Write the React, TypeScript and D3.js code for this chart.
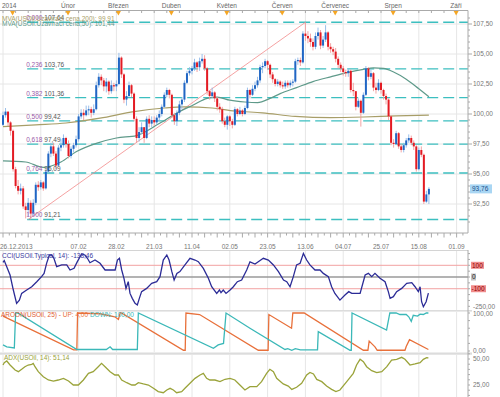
import React from 'react';
import * as d3 from 'd3';

const FONT = '"Liberation Sans", Arial, sans-serif';

// daily candles (USOil), open = previous close
const firstOpen = 99.1;
const closes = [
  99.9, 100.2, 99.3, 98.6, 95.4, 94.0, 93.6, 93.8, 92.3, 92.0,
  92.6, 91.7, 92.6, 94.1, 93.9, 94.3, 93.8, 95.2, 96.7, 97.3,
  96.7, 95.7, 97.2, 97.4, 98.0, 97.5, 96.5, 97.1, 97.4, 97.9,
  99.8, 100.1, 99.9, 100.3, 100.4, 100.1, 100.4, 102.4, 103.1, 102.8,
  102.3, 102.7, 101.9, 102.4, 102.3, 102.5, 104.7, 103.3, 101.2, 101.5,
  102.4, 101.7, 99.6, 98.0, 98.5, 98.9, 98.0, 99.6, 99.2, 99.5,
  99.3, 99.7, 100.0, 100.6, 101.6, 102.0, 101.6, 99.9, 99.4, 100.1,
  100.8, 101.2, 102.6, 103.4, 103.6, 103.8, 104.3, 103.9, 104.4, 104.6,
  103.8, 101.9, 101.5, 101.8, 101.3, 100.6, 100.4, 99.4, 99.1, 99.8,
  99.4, 99.1, 100.4, 100.0, 100.3, 100.0, 100.5, 102.0, 101.6, 102.1,
  102.4, 102.8, 103.9, 104.0, 104.4, 104.1, 103.3, 102.9, 102.5, 102.7,
  102.4, 102.3, 102.6, 102.4, 102.6, 102.7, 104.4, 104.5, 104.3, 106.7,
  106.5, 106.3, 106.0, 105.6, 106.5, 106.8, 105.7, 106.2, 106.8, 105.6,
  105.4, 105.2, 104.6, 104.1, 103.8, 103.5, 103.4, 103.6, 102.0, 101.9,
  100.6, 101.1, 100.1, 101.6, 103.8, 103.1, 103.4, 102.2, 102.0, 102.6,
  102.0, 101.5, 101.2, 99.8, 97.6, 97.5, 98.4, 97.3, 97.0, 97.4,
  97.8, 98.0, 97.6, 97.3, 95.4, 97.0, 96.6, 92.7, 93.3, 93.76,
];
const highs = [
  100.2, 100.5, 100.1, 99.4, 98.7, 95.6, 94.5, 94.2, 94.0, 92.6,
  93.0, 92.8, 92.9, 94.3, 94.4, 94.5, 94.4, 95.4, 96.9, 97.6,
  97.6, 96.9, 97.4, 97.9, 98.3, 98.1, 97.8, 97.3, 97.6, 98.2,
  100.0, 100.4, 100.4, 100.7, 100.7, 100.6, 100.8, 102.7, 103.4, 103.3,
  103.0, 103.0, 102.8, 102.8, 102.6, 102.8, 105.1, 104.8, 103.4, 101.9,
  102.7, 102.5, 101.8, 99.8, 98.9, 99.3, 98.9, 99.8, 99.9, 99.8,
  99.8, 99.9, 100.3, 100.8, 101.8, 102.2, 102.1, 101.7, 100.1, 100.3,
  101.1, 101.4, 102.8, 103.6, 103.9, 104.0, 104.6, 104.4, 104.7, 105.0,
  104.9, 103.9, 102.0, 102.2, 101.9, 101.4, 100.9, 100.6, 99.7, 99.9,
  99.9, 99.6, 100.6, 100.5, 100.6, 100.4, 100.7, 102.2, 102.1, 102.4,
  102.7, 103.1, 104.1, 104.3, 104.6, 104.5, 104.2, 103.5, 103.0, 102.9,
  102.8, 102.7, 102.8, 102.8, 102.8, 102.9, 104.6, 104.7, 104.7, 106.9,
  107.64, 106.9, 106.7, 106.3, 106.8, 107.2, 107.0, 106.5, 107.4, 106.9,
  105.9, 105.6, 105.5, 104.8, 104.3, 104.0, 103.7, 103.8, 103.7, 102.6,
  101.9, 101.3, 101.2, 101.8, 104.0, 103.9, 103.7, 103.5, 102.6, 102.9,
  102.7, 102.1, 101.7, 101.3, 99.9, 97.9, 98.6, 98.5, 97.5, 97.6,
  98.0, 98.3, 98.2, 97.8, 97.4, 97.2, 97.3, 96.7, 93.6, 93.9,
];
const lows = [
  99.0, 99.7, 99.0, 98.2, 95.2, 93.8, 93.3, 93.3, 92.1, 91.3,
  91.5, 91.21, 91.5, 92.4, 93.6, 93.7, 93.6, 93.7, 95.1, 96.4,
  96.5, 95.4, 95.6, 96.9, 97.2, 97.2, 96.3, 96.3, 96.8, 97.2,
  97.7, 99.6, 99.5, 99.8, 99.9, 99.7, 99.9, 100.3, 102.2, 102.4,
  101.9, 101.8, 101.6, 101.7, 101.9, 101.9, 102.4, 103.0, 100.9, 100.7,
  101.4, 101.4, 99.4, 97.6, 97.7, 98.3, 97.6, 97.9, 98.9, 98.9,
  99.0, 99.1, 99.4, 99.8, 100.5, 101.4, 101.3, 99.7, 99.1, 99.0,
  99.9, 100.4, 101.0, 102.5, 103.2, 103.3, 103.6, 103.5, 103.6, 104.2,
  103.6, 101.6, 101.2, 101.3, 101.0, 100.3, 100.1, 99.2, 98.9, 98.7,
  99.0, 98.8, 99.0, 99.8, 99.9, 99.8, 99.9, 100.4, 101.3, 101.5,
  101.9, 102.2, 102.6, 103.4, 103.8, 103.7, 103.0, 102.6, 102.3, 102.3,
  102.2, 102.1, 102.1, 102.2, 102.2, 102.3, 102.6, 104.1, 104.0, 104.2,
  106.1, 105.9, 105.6, 105.3, 105.4, 106.2, 105.4, 105.5, 106.0, 105.3,
  105.1, 104.9, 104.3, 103.8, 103.5, 103.2, 103.1, 103.1, 101.8, 101.5,
  100.3, 100.5, 98.95, 100.0, 101.5, 102.8, 102.9, 101.9, 101.7, 101.9,
  101.7, 101.2, 100.8, 99.5, 97.4, 97.2, 97.4, 97.1, 96.8, 96.8,
  97.2, 97.6, 97.4, 97.0, 95.2, 95.3, 96.4, 92.5, 92.6, 92.5,
];

// moving averages as [bar index, value]
const ma50 = [
  [0, 96.1], [9, 96.0], [16, 95.55], [23, 96.0], [29, 96.85], [37, 97.55], [45, 98.0],
  [53, 98.2], [62, 99.2], [70, 100.2], [75.5, 100.75], [81, 101.3], [85, 101.4], [90, 101.15],
  [96, 101.0], [101, 100.95], [106, 101.3], [110, 101.7], [116.5, 102.2], [123, 102.7],
  [130, 103.1], [136.5, 103.45], [143, 103.72], [147, 103.85], [151, 103.8], [155, 103.5],
  [160, 102.9], [165, 102.1], [169, 101.44],
];
const ma200 = [
  [0, 98.95], [13, 99.1], [25, 99.25], [38.5, 99.65], [52, 100.2], [64, 100.5], [72, 100.6],
  [83, 100.5], [92, 100.25], [103, 100.1], [116, 99.8], [130, 99.7], [143, 99.75],
  [156, 99.85], [169, 99.91],
];

const fibRatios = [0, 0.236, 0.382, 0.5, 0.618, 0.764, 1];
const fibHigh = 107.64;
const fibLow = 91.21;
const fibStartIdx = 9.6;
const trendFromIdx = 10;
const trendToIdx = 120;

const priceTicks = [92.5, 95, 97.5, 100, 102.5, 105, 107.5];
const lastPrice = 93.76;

const dateGridIdx = [0, 15, 30, 45, 60, 75, 90, 105, 120, 135, 150, 165, 180];
const dateLabels = ['26.12.2013', '', '07.02', '28.02', '21.03', '11.04', '02.05', '23.05', '13.06', '04.07', '25.07', '15.08', '01.09'];
const monthIdx = [4, 26, 46, 67, 89, 111, 132, 155, 180];
const monthLabels = ['2014', 'Únor', 'Březen', 'Duben', 'Květen', 'Červen', 'Červenec', 'Srpen', 'Září'];

const cci = [
  [0, 125], [0.5, 140], [1.2, 103], [2.8, 17], [4.1, -111], [5.4, -225], [6.5, -197], [7.4, -140],
  [9.4, -111], [11.4, -83], [13.4, -40], [15.3, 3], [16.3, 31], [17.3, 117], [18.4, 188], [19.3, 188],
  [20.2, 160], [21.3, 88], [23.3, 103], [25.3, 103], [26.6, 60], [28.2, 74], [29.5, 131], [31.2, 197],
  [32.5, 188], [33.5, 160], [34.5, 122], [36.5, 145], [38.5, 117], [40.5, 60], [42.5, 60], [44.5, 60],
  [45.4, 145], [46.2, 160], [47.1, 60], [48, -11], [48.8, -97], [49.7, -40], [50.4, -140], [51.3, -182],
  [52.4, -225], [53.3, -239], [54.1, -182], [55, -125], [57, -97], [59, -54], [61, -40], [62.3, 3],
  [63.6, 145], [65, 188], [65.9, 145], [67, 46], [67.9, -26], [69, 31], [70.2, 46], [72.2, 103],
  [74.2, 160], [76.2, 145], [77.5, 131], [79.5, 74], [81.5, -11], [82.8, -83], [84.8, -140], [85.9, -111],
  [86.5, -134], [87.4, -111], [88.5, -140], [90.1, -111], [91.4, -83], [93, -40], [94.7, -26], [96.7, 60],
  [98, 130], [100, 111], [101.3, 131], [103.3, 160], [105.3, 145], [107.3, 103], [109.3, 46], [111.3, -26],
  [112.6, -40], [113.9, -83], [115.2, 3], [116.5, 103], [117.9, 117], [119.2, 202], [120.5, 145], [121.8, 103],
  [123.8, 60], [125.8, 60], [127.1, 31], [129.1, 3], [130.4, -83], [131.7, -140], [133.7, -197], [135.7, -154],
  [137.2, -125], [138.4, -140], [140.4, -140], [141.7, -140], [143.7, 17], [145, 31], [146.3, 3], [147.6, 31],
  [149.6, -11], [151.6, -40], [152.9, -125], [153.6, -182], [154.9, -168], [156.2, -125], [158.2, -97],
  [160.2, -54], [162.2, -48], [163.5, -83], [164.8, -125], [165.5, -83], [166.1, -211], [166.8, -254],
  [167.9, -211], [168.8, -138],
];

const aroonUp = [
  [0, 92], [28, 3], [29.3, 3], [29.6, 100], [38.5, 98], [44.4, 90], [45.8, 83], [46.5, 100], [47, 100],
  [71.6, 2], [72.3, 2], [72.6, 100], [78, 96], [101.3, 2], [105.2, 2], [105.5, 96], [114.5, 60],
  [115, 100], [119.5, 100], [143, 2], [144.8, 2], [145.3, 26], [147.6, 11], [148.5, 2], [159.5, 2],
  [160, 12], [161.3, 30], [168.8, 4],
];
const aroonDown = [
  [0, 16], [1.5, 11], [4.5, 8], [5, 100], [5.9, 100], [29.3, 4], [41, 4], [42.5, 11], [43.5, 4],
  [53.3, 4], [53.7, 100], [83.5, 7], [85.4, 16], [87.5, 20], [88.5, 100], [98, 60], [111.9, 4],
  [113, 6], [114.6, 2], [116, 6], [118, 3], [124.8, 3], [125.1, 51], [137.7, 2], [138.2, 2],
  [138.5, 100], [152.2, 55], [153.5, 100], [156, 100], [157.5, 96], [160, 96], [161, 90], [162, 78],
  [162.8, 94], [164.5, 92], [165.5, 97], [166.8, 96], [168, 100], [168.8, 100],
];

const adx = [
  [0, 44.2], [0.5, 46.5], [1.5, 48.1], [2.8, 44.2], [4.8, 39.4], [6.1, 37.8], [7.4, 40.1], [8.7, 42.6],
  [10, 44.2], [11.4, 44.9], [12, 45.8], [12.7, 42.6], [14, 37.8], [16, 33], [18, 29.8], [20, 28.8],
  [21.9, 29.8], [24, 31.4], [26, 28.8], [27.9, 25], [29.9, 25], [31.9, 29.8], [33.9, 36.2], [35.8, 37.8],
  [37.8, 42.6], [39.1, 45.8], [40.5, 42.6], [42.5, 37.8], [44.4, 34.6], [45.8, 34.6], [47.1, 29.8],
  [49.1, 27.2], [51.1, 25], [52.4, 25], [53.7, 27.2], [55.7, 26], [57.7, 25], [59.7, 21.8], [61.6, 18.6],
  [63.6, 17.6], [65, 20.2], [66.3, 21.8], [67.6, 20.2], [68.9, 17.6], [70.9, 18.6], [72.2, 21.8],
  [74.2, 26.6], [76.2, 31.4], [78.2, 34.6], [79.5, 36.2], [80.8, 31.4], [82.1, 29.8], [84.1, 29.8],
  [86.1, 28.2], [88.1, 30.5], [90.1, 31.4], [92, 29.8], [94, 25], [96, 20.2], [98, 23.4], [100.7, 23.4],
  [102.6, 28.2], [104.6, 36.2], [105.9, 40.1], [107.3, 37.8], [108.6, 31.4], [111.2, 26], [113.2, 24],
  [114.6, 20.8], [116.5, 22.8], [118.5, 26.6], [120.5, 34.6], [121.8, 37.1], [123.2, 35.6], [124.5, 30.4],
  [126.5, 28.2], [128.4, 24], [130.4, 20.8], [132.1, 18.6], [133.7, 20.2], [136.4, 28.2], [139, 36.2],
  [140.3, 44.2], [141.7, 49.7], [143, 47.4], [144.3, 42.6], [146.3, 38.8], [148.3, 36.9], [150.3, 37.8],
  [152.3, 42.6], [154.2, 49], [156.2, 49.7], [158.2, 51.6], [159.5, 49.7], [161.5, 44.2], [163.5, 45.2],
  [165.5, 46.5], [166.8, 49.7], [168.1, 51.2], [168.8, 51.1],
];

const fmt = (v: number) => v.toFixed(2).replace('.', ',');

export default function App() {
  const AX = 468;
  const x = d3.scaleLinear().domain([0, 184]).range([3, 466.7]);
  const yP = d3.scaleLinear().domain([92.5, 107.5]).range([204, 24]);
  const yC = d3.scaleLinear().domain([-250, 100]).range([306.3, 265.3]);
  const yA = d3.scaleLinear().domain([0, 100]).range([351, 313]);
  const yD = d3.scaleLinear().domain([25, 50]).range([385, 359]);

  const mk = (ys: d3.ScaleLinear<number, number>, curve = d3.curveLinear) =>
    d3.line<number[]>().x(d => x(d[0])).y(d => ys(d[1])).curve(curve);

  const txt = { fontFamily: FONT, fontSize: 6.5 } as const;
  const gridColor = '#e6e6e6';
  const axisColor = '#aaa';
  const lblColor = '#777';

  const candles = closes.map((c, i) => {
    const o = i === 0 ? firstOpen : closes[i - 1];
    return { i, o, c, h: Math.max(highs[i], o, c), l: Math.min(lows[i], o, c) };
  });

  const fibLevels = fibRatios.map(r => ({ r, v: fibHigh - r * (fibHigh - fibLow) }));

  const panels = [
    { y0: 250, y1: 310 },
    { y0: 312, y1: 352 },
    { y0: 355, y1: 397 },
  ];

  return (
    <div style={{ position: 'absolute', left: 0, top: 0 }}>
      <svg width={500} height={397} style={{ display: 'block', background: '#fff' }}>
        <defs>
          <clipPath id="mainClip"><rect x={0} y={11} width={AX} height={222} /></clipPath>
          <clipPath id="cciClip"><rect x={0} y={250} width={AX} height={60} /></clipPath>
          <clipPath id="aroClip"><rect x={0} y={311} width={AX} height={42} /></clipPath>
          <clipPath id="adxClip"><rect x={0} y={355} width={AX} height={42} /></clipPath>
        </defs>

        {/* vertical grid */}
        {dateGridIdx.map(d => (
          <g key={'g' + d}>
            <line x1={x(d)} x2={x(d)} y1={11} y2={233} stroke={gridColor} />
            {panels.map((p, k) => (
              <line key={k} x1={x(d)} x2={x(d)} y1={p.y0} y2={p.y1} stroke={gridColor} />
            ))}
          </g>
        ))}
        {/* horizontal grid main */}
        {priceTicks.map(v => (
          <line key={'h' + v} x1={0} x2={AX} y1={yP(v)} y2={yP(v)} stroke={gridColor} />
        ))}

        {/* top month axis */}
        <line x1={0} x2={AX} y1={10.5} y2={10.5} stroke={axisColor} />
        {d3.range(0, 185, 5).map(t => (
          <line key={'tt' + t} x1={x(t)} x2={x(t)} y1={10.5} y2={13} stroke={axisColor} />
        ))}
        {monthIdx.map((m, k) => {
          const cx = x(m) - 0.5;
          return (
            <g key={'m' + k}>
              <path d={`M${cx - 2.5},11 L${cx + 2.5},11 L${cx},15.5 Z`} fill="#f5a623" />
              <text x={k === 0 ? 2 : cx} y={7.5} textAnchor={k === 0 ? 'start' : 'middle'} fill="#666" {...txt}>
                {monthLabels[k]}
              </text>
            </g>
          );
        })}

        {/* fib levels */}
        {fibLevels.map(f => (
          <line key={'f' + f.r} x1={x(fibStartIdx)} x2={AX} y1={yP(f.v)} y2={yP(f.v)}
            stroke="#3cbfc0" strokeWidth={1.4} strokeDasharray="11,5" />
        ))}

        <g clipPath="url(#mainClip)">
          {/* trend line */}
          <line x1={x(trendFromIdx)} y1={yP(fibLow)} x2={x(trendToIdx)} y2={yP(fibHigh)} stroke="#f28a8a" strokeWidth={0.8} />
          {/* moving averages */}
          <path d={mk(yP, d3.curveMonotoneX)(ma200) || ''} fill="none" stroke="#a89e68" strokeWidth={1.2} />
          <path d={mk(yP, d3.curveMonotoneX)(ma50) || ''} fill="none" stroke="#5f9a8a" strokeWidth={1.2} />
          {/* candles */}
          {candles.map(d => {
            const up = d.c >= d.o;
            const cx = x(d.i);
            const top = yP(Math.max(d.o, d.c));
            const bot = yP(Math.min(d.o, d.c));
            return (
              <g key={'c' + d.i}>
                <line x1={cx} x2={cx} y1={yP(d.h)} y2={yP(d.l)} stroke={up ? '#8fb8e8' : '#f29a9a'} strokeWidth={0.9} />
                <rect x={cx - 1} y={top} width={2} height={Math.max(1, bot - top)} fill={up ? '#2166c4' : '#e31b23'} />
              </g>
            );
          })}
        </g>

        {/* fib labels */}
        {fibLevels.map(f => (
          <text key={'fl' + f.r} x={x(fibStartIdx) - 1} y={yP(f.v) - 2} {...txt}>
            <tspan fill="#9a5aa8">{f.r.toFixed(3).replace('.', ',')}</tspan>
            <tspan fill="#555"> {fmt(f.v)}</tspan>
          </text>
        ))}

        {/* MVA legend */}
        <text x={2} y={20.5} fill="#a89e68" {...txt}>MVA(USOil.Uzavírací cena,200): 99,91</text>
        <text x={2} y={25.8} fill="#5f9a8a" {...txt}>MVA(USOil.Uzavírací cena,50): 101,44</text>

        {/* main right axis */}
        <line x1={AX} x2={AX} y1={10.5} y2={233} stroke={axisColor} />
        {d3.range(91, 108.01, 0.5).map(v => (
          <line key={'mt' + v} x1={AX} x2={AX + (v % 2.5 === 0 ? 4 : 2)} y1={yP(v)} y2={yP(v)} stroke={axisColor} />
        ))}
        {priceTicks.map(v => (
          <text key={'pl' + v} x={AX + 5} y={yP(v) + 2.3} fill={lblColor} {...txt}>{fmt(v)}</text>
        ))}
        <rect x={AX + 2} y={yP(lastPrice) - 4.5} width={22} height={9} fill="#a9d6f3" />
        <text x={AX + 4} y={yP(lastPrice) + 2.3} fill="#1d4f8a" {...txt}>{fmt(lastPrice)}</text>

        {/* date axis */}
        <line x1={0} x2={AX} y1={233} y2={233} stroke={axisColor} />
        {d3.range(0, 185, 2.5).map(t => (
          <line key={'dt' + t} x1={x(t)} x2={x(t)} y1={233} y2={t % 5 === 0 ? 237.5 : 235.5} stroke={axisColor} />
        ))}
        {dateGridIdx.map((d, k) => dateLabels[k] ? (
          <text key={'dl' + d} x={k === 0 ? 0 : x(d)} y={248.5} textAnchor={k === 0 ? 'start' : 'middle'} fill={lblColor} {...txt}>
            {dateLabels[k]}
          </text>
        ) : null)}

        {/* panel frames */}
        <line x1={0} x2={AX} y1={250.5} y2={250.5} stroke="#d4d4d4" />
        <rect x={0} y={310} width={AX + 4} height={1.6} fill="#dcdcdc" />
        <rect x={0} y={352.5} width={AX + 4} height={2.2} fill="#dcdcdc" />
        <line x1={AX} x2={AX} y1={250} y2={397} stroke={axisColor} />

        {/* CCI panel */}
        <line x1={0} x2={AX} y1={yC(100)} y2={yC(100)} stroke="#f2a2a2" />
        <line x1={0} x2={AX} y1={yC(-100)} y2={yC(-100)} stroke="#f2a2a2" />
        <line x1={0} x2={AX} y1={yC(0)} y2={yC(0)} stroke="#9a9a9a" strokeWidth={1.4} />
        <g clipPath="url(#cciClip)">
          <path d={mk(yC)(cci) || ''} fill="none" stroke="#2b2b96" strokeWidth={1.3} />
        </g>
        <text x={2} y={258} fill="#3a3aa0" {...txt}>CCI(USOil.Typical, 14): -138,46</text>
        {d3.range(-250, 201, 50).map(v => (
          <line key={'ct' + v} x1={AX} x2={AX + 2} y1={yC(v)} y2={yC(v)} stroke={axisColor} />
        ))}
        <rect x={AX + 3} y={yC(100) - 3.5} width={13} height={7} fill="#f08c8c" />
        <text x={AX + 4} y={yC(100) + 2.2} fill="#8b0000" {...txt}>100</text>
        <rect x={AX + 3} y={yC(0) - 3.5} width={5} height={7} fill="#c4c4c4" />
        <text x={AX + 4} y={yC(0) + 2.2} fill="#222" {...txt}>0</text>
        <rect x={AX + 3} y={yC(-100) - 3.5} width={15} height={7} fill="#f08c8c" />
        <text x={AX + 3.5} y={yC(-100) + 2.2} fill="#8b0000" {...txt}>-100</text>
        <text x={AX + 5} y={yC(-250) + 2.2} fill={lblColor} {...txt}>-250,00</text>

        {/* Aroon panel */}
        <g clipPath="url(#aroClip)">
          <path d={mk(yA)(aroonUp) || ''} fill="none" stroke="#e8703a" strokeWidth={1.3} />
          <path d={mk(yA)(aroonDown) || ''} fill="none" stroke="#3bb8b8" strokeWidth={1.3} />
        </g>
        <text x={1} y={317} {...txt}>
          <tspan fill="#e05a30">AROON(USOil, 25) -  </tspan>
          <tspan fill="#e8703a">UP: 4,00  </tspan>
          <tspan fill="#3bb8b8">DOWN: 100,00</tspan>
        </text>
        {d3.range(0, 101, 20).map(v => (
          <line key={'at' + v} x1={AX} x2={AX + 2} y1={yA(v)} y2={yA(v)} stroke={axisColor} />
        ))}
        <text x={AX + 5} y={yA(100) + 2.5} fill={lblColor} {...txt}>100,00</text>
        <text x={AX + 5} y={yA(0) + 2} fill={lblColor} {...txt}>0,00</text>

        {/* ADX panel */}
        <g clipPath="url(#adxClip)">
          <path d={mk(yD)(adx) || ''} fill="none" stroke="#9aa33a" strokeWidth={1.3} />
        </g>
        <text x={4} y={359.5} fill="#9aa33a" {...txt}>ADX(USOil, 14): 51,14</text>
        {d3.range(15, 56, 5).map(v => (
          <line key={'xt' + v} x1={AX} x2={AX + 2} y1={yD(v)} y2={yD(v)} stroke={axisColor} />
        ))}
        <text x={AX + 5} y={yD(50) + 2.3} fill={lblColor} {...txt}>50,00</text>
        <text x={AX + 5} y={yD(25) + 2.3} fill={lblColor} {...txt}>25,00</text>
      </svg>
    </div>
  );
}
